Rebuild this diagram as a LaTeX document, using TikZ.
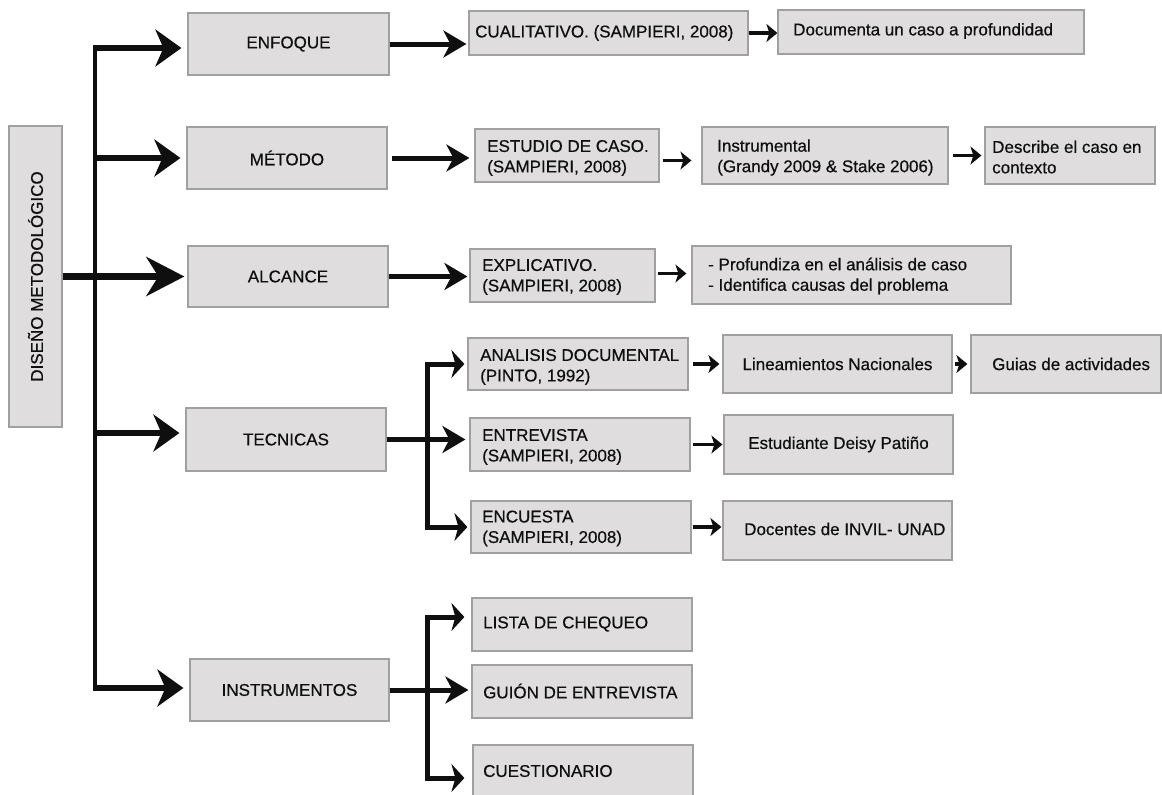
\documentclass[tikz,border=0pt]{standalone}
\usepackage{fontspec}
\setmainfont{Liberation Sans}
\newfontfamily\diagfont{Liberation Sans}[FakeBold=0.5]
\usetikzlibrary{arrows.meta}
\definecolor{boxfill}{RGB}{223,221,221}
\definecolor{boxline}{RGB}{160,160,160}
\definecolor{ink}{RGB}{15,15,15}
\begin{document}
\begin{tikzpicture}[x=1pt,y=-1pt,
  box/.style={draw=boxline, fill=boxfill, line width=1.2pt, inner sep=0pt, font=\diagfont\fontsize{17}{20}\selectfont, text=ink},
  txt/.style={inner sep=0pt, align=left, anchor=west, font=\diagfont\fontsize{17}{20.5}\selectfont, text=ink},
  trunk/.style={draw=ink, line width=4pt},
  aone/.style={draw=ink, line width=6pt, -{Stealth[length=26pt,width=37pt,inset=8pt]}, shorten >=6pt},
  abig/.style={draw=ink, line width=7pt, -{Stealth[length=38pt,width=39pt,inset=12pt]}, shorten >=3pt},
  atwo/.style={draw=ink, line width=5pt, -{Stealth[length=23pt,width=27pt,inset=7pt]}, shorten >=2pt},
  acorner/.style={draw=ink, line width=5pt, line join=miter, {Stealth[length=13pt,width=28pt,inset=4pt]}-{Stealth[length=13pt,width=28pt,inset=4pt]}, shorten >=3pt, shorten <=3pt},
  athree/.style={draw=ink, line width=3.5pt, -{Stealth[length=11pt,width=18pt,inset=3pt]}},
]
\useasboundingbox[fill=white] (0,0) rectangle (1162,795);

% level 0
\node[box, minimum width=53pt, minimum height=301pt] (dm) at (35.5,276.5) {};
\node[inner sep=0pt, rotate=90, font=\diagfont\fontsize{17}{20}\selectfont, text=ink] (dmt) at (dm.center) {DISEÑO METODOLÓGICO};

% level 1
\node[box, minimum width=201pt, minimum height=62pt] (enf) at (288.5,44) {ENFOQUE};
\node[box, minimum width=200pt, minimum height=62pt] (met) at (287,158) {MÉTODO};
\node[box, minimum width=200pt, minimum height=61pt] (alc) at (288,276.5) {ALCANCE};
\node[box, minimum width=200pt, minimum height=63pt] (tec) at (286,439.5) {TECNICAS};
\node[box, minimum width=199pt, minimum height=62pt] (ins) at (289.5,690) {INSTRUMENTOS};

% level 2
\node[box, minimum width=279pt, minimum height=44pt] (cual) at (608.5,33) {};
\node[txt] (cualt) at (475,33) {CUALITATIVO. (SAMPIERI, 2008)};
\node[box, minimum width=184pt, minimum height=53pt] (est) at (567,155.5) {};
\node[txt] (estt) at (487,158) {ESTUDIO DE CASO.\\(SAMPIERI, 2008)};
\node[box, minimum width=185pt, minimum height=53pt] (expl) at (562.5,275.5) {};
\node[txt] (explt) at (482,277) {EXPLICATIVO.\\(SAMPIERI, 2008)};
\node[box, minimum width=220pt, minimum height=52pt] (ana) at (578,364) {};
\node[txt] (anat) at (480,367) {ANALISIS DOCUMENTAL\\(PINTO, 1992)};
\node[box, minimum width=220pt, minimum height=53pt] (ent) at (580,444.5) {};
\node[txt] (entt) at (482,447) {ENTREVISTA\\(SAMPIERI, 2008)};
\node[box, minimum width=220pt, minimum height=52pt] (enc) at (581,527) {};
\node[txt] (enct) at (482,528.5) {ENCUESTA\\(SAMPIERI, 2008)};
\node[box, minimum width=220pt, minimum height=53pt] (lista) at (582,624.5) {};
\node[txt] (listat) at (483,624) {LISTA DE CHEQUEO};
\node[box, minimum width=220pt, minimum height=53pt] (guion) at (582,691.5) {};
\node[txt] (guiont) at (483,691) {GUIÓN DE ENTREVISTA};
\node[box, minimum width=220pt, minimum height=55pt] (cues) at (583,772.5) {};
\node[txt] (cuest) at (483,771) {CUESTIONARIO};

% level 3
\node[box, minimum width=306pt, minimum height=44pt] (doc) at (931,32) {};
\node[txt] (doct) at (793,31) {Documenta un caso a profundidad};
\node[box, minimum width=246pt, minimum height=57pt] (instr) at (825,155.5) {};
\node[txt] (instrt) at (717,157.5) {Instrumental\\(Grandy 2009 \& Stake 2006)};
\node[box, minimum width=319pt, minimum height=58pt] (prof) at (851.5,275) {};
\node[txt] (proft) at (708,276) {- Profundiza en el análisis de caso\\- Identifica causas del problema};
\node[box, minimum width=229pt, minimum height=58pt] (lin) at (837.5,364) {Lineamientos Nacionales};
\node[box, minimum width=229pt, minimum height=59pt] (estd) at (838.5,444.5) {Estudiante Deisy Patiño};
\node[box, minimum width=229pt, minimum height=59pt] (docn) at (837.5,530.5) {};
\node[txt] (docnt) at (744,529) {Docentes de INVIL- UNAD};

% level 4
\node[box, minimum width=170pt, minimum height=57pt] (desc) at (1070,155.5) {};
\node[txt] (desct) at (992,157) {Describe el caso en\\contexto};
\node[box, minimum width=190pt, minimum height=58pt] (guia) at (1066,364) {};
\node[txt] (guiat) at (992,364) {Guias de actividades};

% trunk
\coordinate (t1) at (95,48);
\coordinate (t2) at (95,158);
\coordinate (t4) at (95,433);
\coordinate (t5) at (95,688);
\coordinate (ttop) at (95,45);
\coordinate (tbot) at (95,691);
\draw[trunk] (ttop) -- (tbot);
\draw[aone] (t1) -- (t1 -| enf.west);
\draw[aone] (t2) -- (t2 -| met.west);
\draw[aone] (t4) -- (t4 -| tec.west);
\draw[aone] (t5) -- (t5 -| ins.west);
\draw[abig] (dm.east) -- (dm.east -| alc.west);

% level 1 -> level 2
\draw[atwo] (enf.east) -- (enf.east -| cual.west);
\draw[atwo, shorten <=4pt, shorten >=5pt] (met.east) -- (met.east -| est.west);
\draw[atwo] (alc.east) -- (alc.east -| expl.west);
\coordinate (tb) at (427,439);
\draw[atwo, shorten >=4pt] (tec.east) -- (tec.east -| ent.west);
\draw[acorner] (ana.west) -- (ana.west -| tb) -- (enc.west -| tb) -- (enc.west);
\coordinate (ib1) at (427,617);
\coordinate (ib2) at (427,778);
\draw[atwo, shorten >=3pt] (ins.east) -- (ins.east -| guion.west);
\draw[acorner, shorten <=7pt, shorten >=8pt] (ib1 -| lista.west) -- (ib1) -- (ib2) -- (ib2 -| cues.west);

% level 2 -> level 3
\draw[athree] (cual.east) -- (cual.east -| doc.west);
\draw[athree, shorten <=3pt, shorten >=10pt] ([yshift=-5pt]est.east) -- ([yshift=-5pt]est.east -| instr.west);
\draw[athree, shorten <=4pt, shorten >=3pt] (instr.east) -- (instr.east -| desc.west);
\draw[athree, shorten <=2pt, shorten >=5pt] ([yshift=2pt]expl.east) -- ([yshift=2pt]expl.east -| prof.west);
\draw[athree, shorten <=4pt, shorten >=3pt] (ana.east) -- (ana.east -| lin.west);
\draw[athree, shorten <=2pt, shorten >=3pt] (lin.east) -- (lin.east -| guia.west);
\draw[athree, shorten <=2pt, shorten >=1pt] (ent.east) -- (ent.east -| estd.west);
\draw[athree, shorten <=1pt, shorten >=1pt] (enc.east) -- (enc.east -| docn.west);
\end{tikzpicture}
\end{document}
